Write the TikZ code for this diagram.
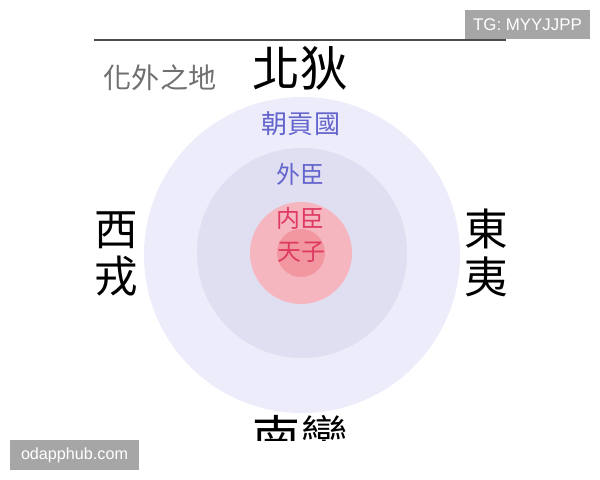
\documentclass[tikz,border=0pt]{standalone}
\usepackage{fontspec}
\setmainfont{Liberation Sans}
\newfontfamily\cjk{Noto Sans CJK TC}
\definecolor{outerring}{RGB}{236,236,251}
\definecolor{middlering}{RGB}{223,223,241}
\definecolor{innerring}{RGB}{246,182,192}
\definecolor{corering}{RGB}{242,150,160}
\definecolor{bluetext}{RGB}{100,100,205}
\definecolor{redtext}{RGB}{222,58,98}
\definecolor{graytext}{RGB}{112,112,112}
\definecolor{markbox}{RGB}{166,166,166}

\begin{document}
\begin{tikzpicture}[x=0.025cm, y=-0.025cm]
  \useasboundingbox (0, 0) rectangle (600, 480);  % 600x480 Pixel.
  \tikzstyle{ring}=[circle, inner sep=0pt]
  \tikzstyle{realm}=[font=\cjk\fontsize{31}{34}\selectfont, text=black, align=center, inner sep=0pt]
  \tikzstyle{wide}=[font=\cjk\fontsize{34}{34}\selectfont]
  \tikzstyle{rank}=[font=\cjk\fontsize{17}{17}\selectfont, inner sep=0pt]
  \tikzstyle{watermark}=[fill=markbox, text=white, inner sep=0pt, minimum height=0.74cm]

  \node[ring, fill=outerring,  minimum size=7.9cm]  (outer)  at (302, 255) {};
  \node[ring, fill=middlering, minimum size=5.25cm] (middle) at (302, 253) {};
  \node[ring, fill=innerring,  minimum size=2.55cm] (inner)  at (301, 253) {};
  \node[ring, fill=corering,   minimum size=1.2cm]  (core)   at (301, 253) {};

  \node[rank, text=bluetext, font=\cjk\fontsize{18.5}{18.5}\selectfont] (tribute) at (301, 124) {朝貢國};
  \node[rank, text=bluetext] (outerMin) at (300, 174) {外臣};
  \node[rank, text=redtext]  (innerMin) at (300, 218) {内臣};
  \node[rank, text=redtext]  (emperor)  at (301, 252) {天子};

  \node[realm, wide] (north) at (300, 68)  {北狄};
  \node[realm] (west)  at (116, 254) {西\\戎};
  \node[realm] (east)  at (486, 253) {東\\夷};
  \begin{scope}
    \clip (0, 0) rectangle (600, 440);
    \node[realm, wide] (south) at (300, 438) {南蠻};
  \end{scope}
  \node[text=graytext, font=\cjk\fontsize{20}{20}\selectfont, inner sep=0pt] (barbarian) at (160, 78) {化外之地};

  \coordinate (lineL) at (94, 40);
  \coordinate (lineR) at (506, 40);
  \draw[black!70, line width=0.9pt] (lineL) -- (lineR);

  \node[watermark, minimum width=3.12cm, font=\fontsize{12}{12}\selectfont]   (tg)   at (527.5, 24.5) {TG: MYYJJPP};
  \node[watermark, minimum width=3.22cm, font=\fontsize{11.5}{11.5}\selectfont] (site) at (74.5, 455)  {odapphub.com};
\end{tikzpicture}
\end{document}
